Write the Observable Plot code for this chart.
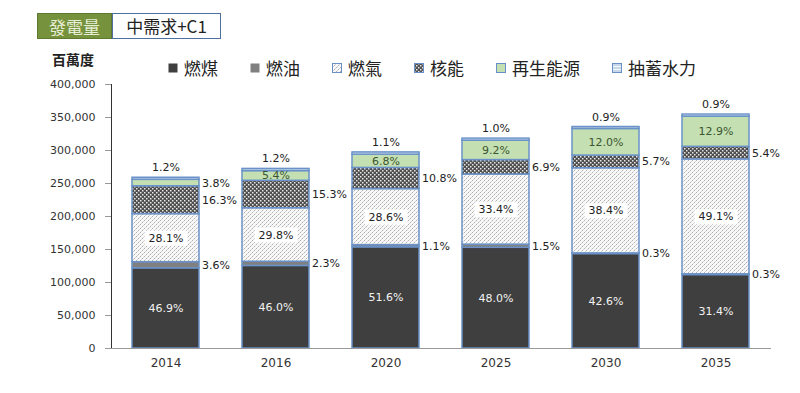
<!DOCTYPE html>
<html><head><meta charset="utf-8">
<script src="https://cdn.jsdelivr.net/npm/d3@7"></script>
<script src="https://cdn.jsdelivr.net/npm/@observablehq/plot@0.6"></script>
<style>
body{margin:0;background:#fff;}
#wrap{position:relative;width:800px;height:393px;font-family:"DejaVu Sans",sans-serif;}
#title{position:absolute;left:37px;top:13px;height:26px;display:flex;font-family:"Noto Sans CJK TC","Noto Sans",sans-serif;font-size:17px;}
#t1{background:#76923C;color:#e6eed6;width:75px;line-height:26px;text-align:center;border:1px solid #5d7a2e;box-sizing:border-box;}
#t2{background:#fff;color:#222;width:109px;line-height:24px;text-align:center;border:1px solid #4f6f9f;box-sizing:border-box;}
#unit{position:absolute;left:52px;top:49px;font-family:"Noto Sans CJK TC",sans-serif;font-weight:bold;font-size:14px;color:#222;}
#legend{position:absolute;left:168px;top:57px;display:flex;gap:32px;font-family:"Noto Sans CJK TC",sans-serif;font-size:17px;color:#222;}
#legend .it{display:flex;align-items:center;gap:6px;line-height:22px;}
#legend svg{display:block}
#chart{position:absolute;left:0;top:0;}
</style></head>
<body>
<div id="wrap">
  <div id="chart"></div>
  <div id="title"><div id="t1">發電量</div><div id="t2">中需求+C1</div></div>
  <div id="unit">百萬度</div>
  <div id="legend"></div>
</div>
<script>
const years = ["2014","2016","2020","2025","2030","2035"];
const sources = ["燃煤","燃油","燃氣","核能","再生能源","抽蓄水力"];
// values (百萬度)
const coal      = [121500,125100,153300,152600,143100,111300];
const oil       = [9300,6300,3300,4800,1000,1100];
const gas       = [72800,81100,84900,106200,129000,174100];
const nuclear   = [42200,41600,32100,21900,19200,19100];
const renewable = [9800,14700,20200,29300,40300,45700];
const hydro     = [3100,3300,3300,3200,3000,3200];
// percentage labels
const coalPct      = [46.9,46.0,51.6,48.0,42.6,31.4];
const oilPct       = [3.6,2.3,1.1,1.5,0.3,0.3];
const gasPct       = [28.1,29.8,28.6,33.4,38.4,49.1];
const nuclearPct   = [16.3,15.3,10.8,6.9,5.7,5.4];
const renewablePct = [3.8,5.4,6.8,9.2,12.0,12.9];
const hydroPct     = [1.2,1.2,1.1,1.0,0.9,0.9];
const yTicks = [0,50000,100000,150000,200000,250000,300000,350000,400000];

const series = [coal,oil,gas,nuclear,renewable,hydro];
const pcts = [coalPct,oilPct,gasPct,nuclearPct,renewablePct,hydroPct];
const fills = ["#3f3f3f","#808080","url(#p-gas)","url(#p-nuc)","#c4e0b2","url(#p-hyd)"];

const rows = [];
years.forEach((year,i)=>{
  let acc = 0;
  sources.forEach((s,j)=>{
    const v = series[j][i];
    rows.push({year, source:s, value:v, pct:pcts[j][i], y1:acc, y2:acc+v, mid:acc+v/2, label:pcts[j][i].toFixed(1)+"%"});
    acc += v;
  });
});

const font = "DejaVu Sans, sans-serif";
const chart = Plot.plot({
  width:800, height:393,
  marginLeft:111, marginRight:29, marginTop:84, marginBottom:45,
  style:{fontFamily:font, fontSize:"11px", color:"#333", background:"transparent"},
  x:{domain:years, paddingInner:0.39, paddingOuter:0.195, label:null, tickSize:0, tickPadding:10},
  y:{domain:[0,400000], ticks:yTicks, tickFormat:d3.format(","), label:null, tickSize:6, tickPadding:10, line:true},
  color:{domain:sources, range:fills},
  marks:[
    Plot.barY(rows,{x:"year", y1:"y1", y2:"y2", fill:"source", stroke:"#6a92c8", strokeWidth:1.5}),
    Plot.ruleY([0],{stroke:"#999"}),
    Plot.text(rows.filter(d=>d.source==="燃煤"),{x:"year", y:"mid", text:"label", fill:"#f2f2f2", fontSize:11}),
    Plot.text(rows.filter(d=>d.source==="燃氣"),{x:"year", y:"mid", text:"label", fill:"#222", fontSize:11}),
    Plot.text(rows.filter(d=>d.source==="再生能源" && d.pct>=5),{x:"year", y:"mid", text:"label", fill:"#3b5530", fontSize:11}),
    Plot.text(rows.filter(d=>d.source==="燃油"||d.source==="核能"||(d.source==="再生能源"&&d.pct<5)),{x:"year", y:"mid", text:"label", fill:"#222", fontSize:11, textAnchor:"start", dx:36}),
    Plot.text(rows.filter(d=>d.source==="抽蓄水力"),{x:"year", y:"y2", text:"label", fill:"#222", fontSize:11, dy:-10})
  ]
});
document.getElementById("chart").appendChild(chart);

// patterns
const defs = d3.select(chart).insert("defs",":first-child");
const pg = defs.append("pattern").attr("id","p-gas").attr("patternUnits","userSpaceOnUse").attr("width",4).attr("height",4);
pg.append("rect").attr("width",4).attr("height",4).attr("fill","#f8f8f8");
pg.append("rect").attr("x",0).attr("y",0).attr("width",1).attr("height",1).attr("fill","#b0b0b0");
pg.append("rect").attr("x",2).attr("y",2).attr("width",1).attr("height",1).attr("fill","#b0b0b0");
pg.append("rect").attr("x",1).attr("y",3).attr("width",1).attr("height",1).attr("fill","#d4d4d4");
pg.append("rect").attr("x",3).attr("y",1).attr("width",1).attr("height",1).attr("fill","#d4d4d4");
const pn = defs.append("pattern").attr("id","p-nuc").attr("patternUnits","userSpaceOnUse").attr("width",4).attr("height",4);
pn.append("rect").attr("width",4).attr("height",4).attr("fill","#4f4f4f");
pn.append("rect").attr("x",0).attr("y",0).attr("width",1.5).attr("height",1.5).attr("fill","#e8e8e8");
pn.append("rect").attr("x",2).attr("y",2).attr("width",1.5).attr("height",1.5).attr("fill","#e8e8e8");
const ph = defs.append("pattern").attr("id","p-hyd").attr("patternUnits","userSpaceOnUse").attr("width",3).attr("height",3);
ph.append("rect").attr("width",3).attr("height",3).attr("fill","#c8d8ec");
ph.append("rect").attr("y",0).attr("width",3).attr("height",1).attr("fill","#f4f8fc");

// x tick labels larger
d3.select(chart).selectAll("g[aria-label='x-axis tick label'] text").attr("font-size","12px");
d3.select(chart).selectAll("g[aria-label='y-axis tick'] path, g[aria-label='y-axis line'] line, g[aria-label='y-axis line'] path").attr("stroke","#999");

// white boxes behind gas labels
const textGroups = chart.querySelectorAll("g[aria-label='text']");
const gasGroup = textGroups[1];
if (gasGroup) {
  gasGroup.querySelectorAll("text").forEach(t=>{
    const b = t.getBBox();
    const r = document.createElementNS("http://www.w3.org/2000/svg","rect");
    r.setAttribute("x", b.x-4); r.setAttribute("y", b.y-1);
    r.setAttribute("width", b.width+8); r.setAttribute("height", b.height+2);
    r.setAttribute("fill","#fff");
    const tr = t.getAttribute("transform"); if (tr) r.setAttribute("transform", tr);
    gasGroup.insertBefore(r, t);
  });
}

// legend
const leg = d3.select("#legend");
sources.forEach((s,j)=>{
  const it = leg.append("div").attr("class","it");
  const sv = it.append("svg").attr("width",10).attr("height",10);
  sv.append("rect").attr("x",0.5).attr("y",0.5).attr("width",9).attr("height",9).attr("fill",fills[j]).attr("stroke", j<2 ? "none" : "#6a8fc6");
  it.append("span").text(s);
});
</script>
</body></html>
